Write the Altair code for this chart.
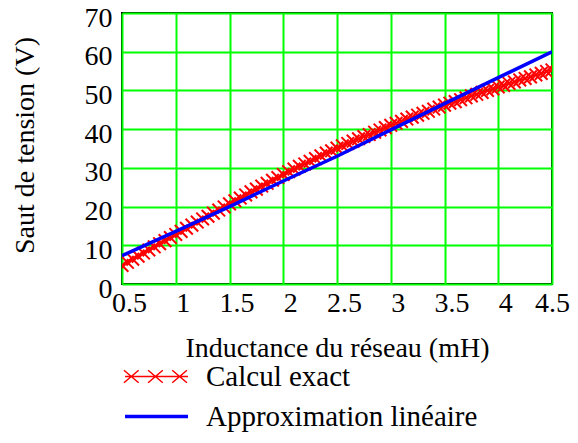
import altair as alt
import pandas as pd

# ---- data ----
series_names = ["Calcul exact", "Approximation linéaire"]
series_colors = ["#ff0000", "#0000ff"]

x_exact = [0.50, 0.55, 0.60, 0.65, 0.70, 0.75, 0.80, 0.85, 0.90, 0.95,
           1.00, 1.05, 1.10, 1.15, 1.20, 1.25, 1.30, 1.35, 1.40, 1.45,
           1.50, 1.55, 1.60, 1.65, 1.70, 1.75, 1.80, 1.85, 1.90, 1.95,
           2.00, 2.05, 2.10, 2.15, 2.20, 2.25, 2.30, 2.35, 2.40, 2.45,
           2.50, 2.55, 2.60, 2.65, 2.70, 2.75, 2.80, 2.85, 2.90, 2.95,
           3.00, 3.05, 3.10, 3.15, 3.20, 3.25, 3.30, 3.35, 3.40, 3.45,
           3.50, 3.55, 3.60, 3.65, 3.70, 3.75, 3.80, 3.85, 3.90, 3.95,
           4.00, 4.05, 4.10, 4.15, 4.20, 4.25, 4.30, 4.35, 4.40, 4.45,
           4.50]
y_exact = [4.8, 5.6, 6.4, 7.2, 8.0, 8.8, 9.6, 10.4, 11.2, 12.0,
           12.8, 13.6, 14.4, 15.2, 16.0, 16.8, 17.5, 18.3, 19.1, 19.9,
           20.7, 21.5, 22.2, 23.0, 23.8, 24.5, 25.3, 26.0, 26.8, 27.5,
           28.3, 29.0, 29.7, 30.4, 31.0, 31.7, 32.4, 33.1, 33.8, 34.4,
           35.1, 35.7, 36.3, 36.9, 37.5, 38.1, 38.6, 39.2, 39.8, 40.4,
           41.0, 41.5, 42.0, 42.6, 43.1, 43.6, 44.1, 44.6, 45.2, 45.7,
           46.2, 46.7, 47.1, 47.6, 48.1, 48.6, 49.0, 49.5, 50.0, 50.4,
           50.9, 51.3, 51.8, 52.2, 52.7, 53.1, 53.5, 54.0, 54.4, 54.9,
           55.3]

x_lin = [0.5, 1.0, 1.5, 2.0, 2.5, 3.0, 3.5, 4.0, 4.5]
y_lin = [7.3, 13.6, 20.0, 26.6, 33.0, 39.8, 46.6, 53.3, 60.0]

x_ticks = [0.5, 1, 1.5, 2, 2.5, 3, 3.5, 4, 4.5]
y_ticks = [0, 10, 20, 30, 40, 50, 60, 70]

# ---- tables ----
exact = pd.DataFrame({"L": x_exact, "V": y_exact, "serie": series_names[0]})
lin = pd.DataFrame({"L": x_lin, "V": y_lin, "serie": series_names[1]})
both = pd.concat([exact, lin], ignore_index=True)

FONT = "Liberation Serif"

x_enc = alt.X(
    "L:Q",
    scale=alt.Scale(domain=[0.5, 4.5], nice=False, zero=False),
    axis=alt.Axis(
        values=x_ticks, format="~g", title="Inductance du réseau (mH)",
        labelPadding=5,
        labelOffset={"condition": {"test": "datum.value >= 4.5", "value": 0}, "value": 7},
        titleX=215, titleY=72, titleAlign="center", titleBaseline="alphabetic",
    ),
)
y_enc = alt.Y(
    "V:Q",
    scale=alt.Scale(domain=[0, 70], nice=False),
    axis=alt.Axis(
        values=y_ticks, title="Saut de tension (V)",
        labelPadding=10, labelOffset=5,
        titleAngle=270, titleX=-89, titleY=132, titleAlign="center", titleBaseline="alphabetic",
    ),
)

x_path = "M-1,-1L1,1M-1,1L1,-1"

red_line = alt.Chart(exact).mark_line(color=series_colors[0], strokeWidth=1.5, clip=True).encode(x=x_enc, y=y_enc)
red_marks = alt.Chart(exact).mark_point(
    shape=x_path, size=160, color=series_colors[0], strokeWidth=2, filled=False, opacity=1, clip=True
).encode(x=x_enc, y=y_enc)
blue_line = alt.Chart(lin).mark_line(color=series_colors[1], strokeWidth=3.5, clip=True).encode(x=x_enc, y=y_enc)

legend_red = ("M-3,0L3,0"
              "M-3.1,-0.6L-1.7,0.6M-3.1,0.6L-1.7,-0.6"
              "M-0.8,-0.6L0.6,0.6M-0.8,0.6L0.6,-0.6"
              "M1.5,-0.6L2.9,0.6M1.5,0.6L2.9,-0.6")
legend_blue = "M-3,0L3,0M-3,-0.1L3,-0.1M-3,0.1L3,0.1"

leg = alt.Legend(
    title=None, orient="none", legendX=20, legendY=349, direction="vertical",
    symbolSize=441, symbolStrokeWidth=1.5, symbolOpacity=1,
    labelFont=FONT, labelFontSize=29, labelColor="black", labelLimit=500,
    labelOffset=35, rowPadding=10, padding=0,
)
legend_layer = alt.Chart(both).mark_point(opacity=0, filled=False).encode(
    x=x_enc, y=y_enc,
    stroke=alt.Stroke("serie:N", scale=alt.Scale(domain=series_names, range=series_colors), legend=leg),
    shape=alt.Shape("serie:N", scale=alt.Scale(domain=series_names, range=[legend_red, legend_blue]), legend=leg),
)

chart = (
    alt.layer(legend_layer, red_line, red_marks, blue_line)
    .properties(
        width=430, height=271,
        autosize=alt.AutoSizeParams(type="none"),
        padding={"left": 114, "top": 5, "right": 18, "bottom": 148},
        background="white",
    )
    .configure(font=FONT)
    .configure_view(stroke="black", strokeWidth=2)
    .configure_axis(
        domain=False, ticks=False, tickSize=0,
        labelFlush=False, labelOverlap=False, labelBound=False,
        labelFont=FONT, labelFontSize=28, labelColor="black", labelFontWeight="normal",
        titleFont=FONT, titleFontSize=28, titleFontWeight="normal", titleColor="black",
        grid=True, gridColor="#00ff00", gridWidth=2, gridOpacity=1,
    )
)

chart.save("out.html", embed_options={"renderer": "svg", "actions": False})
